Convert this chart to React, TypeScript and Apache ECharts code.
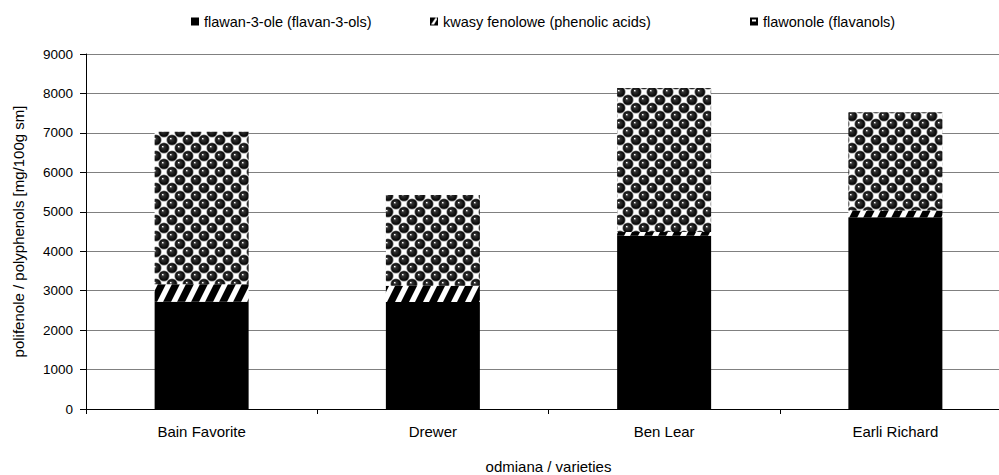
import React, { useEffect, useRef } from "react";
import * as echarts from "echarts";

// Polyphenol content by variety, mg/100 g dry matter
const varieties = ["Bain Favorite", "Drewer", "Ben Lear", "Earli Richard"];
const flavan3ols = [2720, 2710, 4390, 4860];
const phenolicAcids = [440, 415, 95, 170];
const flavonols = [3870, 2300, 3650, 2495];

const seriesNames = [
  "flawan-3-ole (flavan-3-ols)",
  "kwasy fenolowe (phenolic acids)",
  "flawonole (flavanols)",
];

const yMin = 0;
const yMax = 9000;
const yStep = 1000;

const FONT = '"Liberation Sans", Arial, sans-serif';

function canvas(w: number, h: number) {
  const c = document.createElement("canvas");
  c.width = w;
  c.height = h;
  return [c, c.getContext("2d")!] as const;
}

// White diagonal stripes on black, leaning "/"
function stripePattern() {
  const w = 14;
  const h = 28;
  const [c, ctx] = canvas(w, h);
  ctx.fillStyle = "#000";
  ctx.fillRect(0, 0, w, h);
  ctx.fillStyle = "#fff";
  for (let k = -3; k <= 3; k++) {
    const x0 = k * w;
    ctx.beginPath();
    ctx.moveTo(x0, h);
    ctx.lineTo(x0 + 6, h);
    ctx.lineTo(x0 + 6 + w, 0);
    ctx.lineTo(x0 + w, 0);
    ctx.closePath();
    ctx.fill();
  }
  return { image: c.toDataURL(), imageWidth: w, imageHeight: h, repeat: "repeat" };
}

// Staggered black spheres with highlights, grey rims and white gaps between
function spherePattern() {
  const s = 16;
  const [c, ctx] = canvas(s, s);
  ctx.fillStyle = "#fff";
  ctx.fillRect(0, 0, s, s);
  const centers: number[][] = [];
  for (let i = -1; i <= 2; i++) {
    for (let j = -1; j <= 2; j++) {
      centers.push([4 + i * 16, 4 + j * 16]);
      centers.push([12 + i * 16, 12 + j * 16]);
    }
  }
  for (const [cx, cy] of centers) {
    ctx.beginPath();
    ctx.arc(cx, cy, 5.6, 0, Math.PI * 2);
    ctx.fillStyle = "#7a7a7a";
    ctx.fill();
  }
  for (const [cx, cy] of centers) {
    const g = ctx.createRadialGradient(cx - 1.4, cy - 1.6, 0.2, cx, cy, 4.9);
    g.addColorStop(0, "#ffffff");
    g.addColorStop(0.24, "#333");
    g.addColorStop(1, "#000000");
    ctx.beginPath();
    ctx.arc(cx, cy, 4.8, 0, Math.PI * 2);
    ctx.fillStyle = g;
    ctx.fill();
  }
  return { image: c.toDataURL(), imageWidth: s, imageHeight: s, repeat: "repeat" };
}

// Small legend swatches
function swatch(kind: number) {
  const [c, ctx] = canvas(8, 8);
  ctx.fillStyle = "#000";
  ctx.fillRect(0, 0, 8, 8);
  ctx.fillStyle = "#fff";
  if (kind === 1) {
    ctx.beginPath();
    ctx.moveTo(1, 7);
    ctx.lineTo(4, 7);
    ctx.lineTo(7, 2);
    ctx.lineTo(7, 0.5);
    ctx.lineTo(5.5, 0.5);
    ctx.closePath();
    ctx.fill();
  } else if (kind === 2) {
    ctx.fillRect(2, 2, 4, 2);
  }
  return "image://" + c.toDataURL();
}

export default function App() {
  const ref = useRef<HTMLDivElement>(null);

  useEffect(() => {
    if (!ref.current) return;
    const chart = echarts.init(ref.current, null, { renderer: "svg" });

    const fills: any[] = ["#000000", stripePattern(), spherePattern()];
    const values = [flavan3ols, phenolicAcids, flavonols];
    const legendLeft = [191, 430, 750];

    chart.setOption({
      animation: false,
      backgroundColor: "#ffffff",
      textStyle: { fontFamily: FONT, color: "#000" },
      legend: seriesNames.map((name, i) => ({
        data: [{ name, icon: swatch(i) }],
        left: legendLeft[i],
        top: 14,
        padding: 0,
        itemWidth: 8,
        itemHeight: 8,
        textStyle: { fontFamily: FONT, fontSize: 14.5, color: "#000" },
        selectedMode: false,
      })),
      grid: {
        left: 86,
        top: 54,
        height: 355,
        width: 925,
        containLabel: false,
        outerBoundsMode: "none",
      },
      xAxis: {
        type: "category",
        data: varieties,
        name: "odmiana / varieties",
        nameLocation: "middle",
        nameGap: 50,
        nameTextStyle: { fontFamily: FONT, fontSize: 15, color: "#000" },
        axisLine: { lineStyle: { color: "#000", width: 1 } },
        axisTick: { show: true, length: 5, lineStyle: { color: "#000" } },
        axisLabel: { margin: 15, fontFamily: FONT, fontSize: 15, color: "#000" },
        splitLine: { show: false },
      },
      yAxis: {
        type: "value",
        min: yMin,
        max: yMax,
        interval: yStep,
        name: "polifenole / polyphenols [mg/100g sm]",
        nameLocation: "middle",
        nameGap: 60,
        nameTextStyle: { fontFamily: FONT, fontSize: 15, color: "#000" },
        axisLine: { show: true, lineStyle: { color: "#000", width: 1 } },
        axisTick: { show: true, length: 6, lineStyle: { color: "#000" } },
        axisLabel: {
          margin: 13,
          fontFamily: FONT,
          fontSize: 13.5,
          color: "#000",
          formatter: (v: number) => String(v),
        },
        splitLine: { show: true, lineStyle: { color: "#808080", width: 1 } },
      },
      series: seriesNames.map((name, i) => ({
        name,
        type: "bar",
        stack: "total",
        barWidth: 94,
        data: values[i],
        itemStyle: { color: fills[i], borderWidth: 0 },
        emphasis: { disabled: true },
      })),
    });

    return () => chart.dispose();
  }, []);

  return (
    <div
      ref={ref}
      style={{ position: "absolute", left: 0, top: 0, width: 999, height: 475 }}
    />
  );
}
